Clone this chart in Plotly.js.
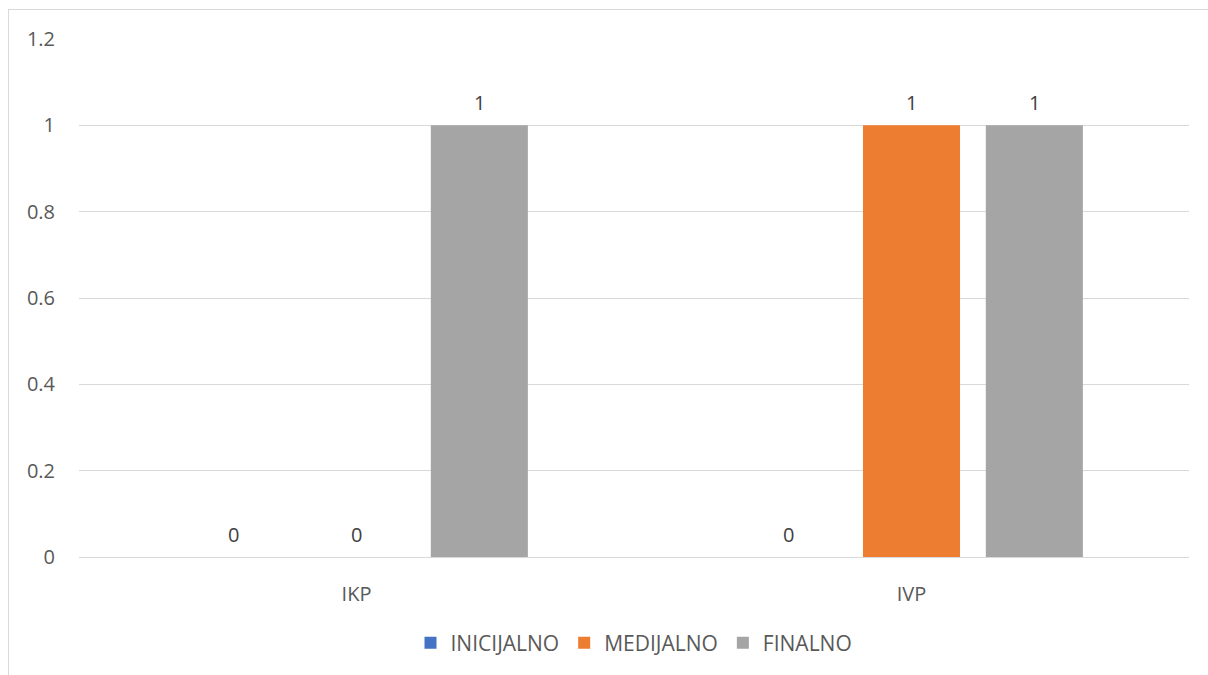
<!DOCTYPE html>
<html>
<head>
<meta charset="utf-8">
<script src="https://cdn.plot.ly/plotly-3.0.1.min.js"></script>
<style>
html,body{margin:0;padding:0;background:#fff;overflow:hidden;}
#chart{position:absolute;left:0;top:0;width:1208px;height:675px;}
#frame{position:absolute;left:8px;top:9px;width:1400px;height:900px;border:1px solid #d9d9d9;pointer-events:none;box-sizing:border-box;}
</style>
</head>
<body>
<div id="chart"></div>
<div id="frame"></div>
<script>
const categories = ["IKP", "IVP"];
const seriesNames = ["INICIJALNO", "MEDIJALNO", "FINALNO"];
const inicijalno = [0, 0];
const medijalno = [0, 1];
const finalno = [1, 1];
const colors = ["#4472C4", "#ED7D31", "#A5A5A5"];
const yTicks = [0, 0.2, 0.4, 0.6, 0.8, 1, 1.2];

const allSeries = [inicijalno, medijalno, finalno];
const font = "Open Sans, Liberation Sans, sans-serif";

const traces = allSeries.map((vals, j) => ({
  type: "bar",
  name: seriesNames[j],
  x: categories,
  y: vals,
  marker: {color: colors[j]},
  hoverinfo: "none"
}));

const bargap = 0.336, groupgap = 0.21;
const slot = (1 - bargap) / 3;
const annotations = [];
allSeries.forEach((vals, j) => {
  vals.forEach((v, i) => {
    annotations.push({
      xref: "x", yref: "y",
      x: i + (j - 1) * slot,
      y: v,
      text: String(v),
      showarrow: false,
      yanchor: "middle",
      yshift: 23,
      font: {family: font, size: 20, color: "#404040"}
    });
  });
});

const layout = {
  width: 1208, height: 675,
  margin: {l: 79, r: 19, t: 39, b: 117},
  paper_bgcolor: "#ffffff",
  plot_bgcolor: "#ffffff",
  barmode: "group",
  bargap: bargap,
  bargroupgap: groupgap,
  showlegend: true,
  legend: {
    orientation: "h",
    x: 0.5, xanchor: "center",
    y: -0.164, yanchor: "middle",
    font: {family: font, size: 21, color: "#595959"},
    itemwidth: 30,
    traceorder: "normal"
  },
  xaxis: {
    type: "category",
    showline: true, linecolor: "#d9d9d9", linewidth: 1,
    showgrid: false,
    ticks: "", ticklabelstandoff: 19,
    tickfont: {family: font, size: 20, color: "#595959"},
    fixedrange: true
  },
  yaxis: {
    range: [0, 1.2],
    tickvals: yTicks,
    ticktext: yTicks.map(String),
    showgrid: true, gridcolor: "#d9d9d9", gridwidth: 1,
    zeroline: false, showline: false,
    ticks: "", ticklabelstandoff: 23,
    tickfont: {family: font, size: 20, color: "#595959"},
    fixedrange: true
  },
  annotations: annotations
};

Plotly.newPlot("chart", traces, layout, {displayModeBar: false, staticPlot: true});
</script>
</body>
</html>
